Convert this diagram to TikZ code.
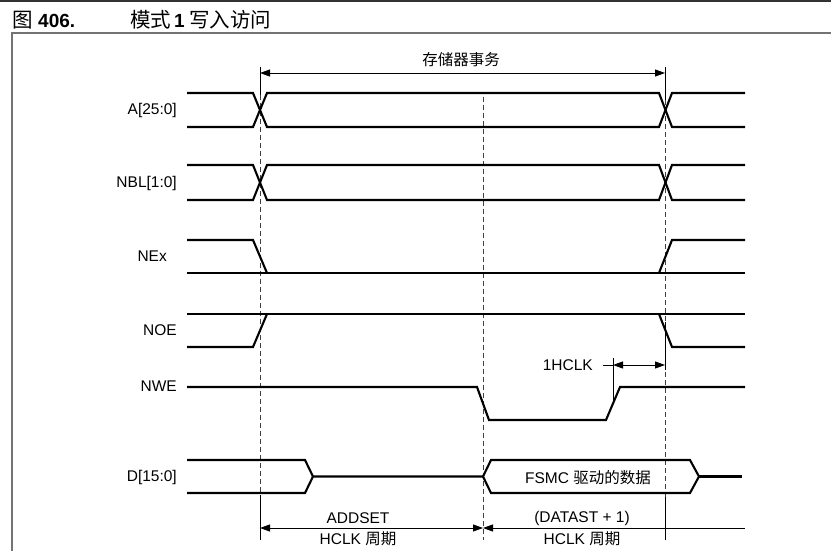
\documentclass[tikz,border=0pt]{standalone}
\usepackage{fontspec}
\setmainfont{Liberation Sans}
\newfontfamily\cjk{Noto Sans CJK SC}
\usetikzlibrary{arrows.meta}
\begin{document}
\begin{tikzpicture}[x=1pt,y=-1pt,
  sig/.style={line width=2.1pt, line join=miter},
  guide/.style={draw=black!75, line width=1pt, dash pattern=on 5pt off 3pt},
  ext/.style={line width=0.9pt},
  tipL/.style={{Triangle[length=10pt,width=7pt]}-},
  dim/.style={line width=0.9pt, {Triangle[length=10pt,width=7pt]}-{Triangle[length=10pt,width=7pt]}},
  lbl/.style={font=\fontsize{15.5}{18}\selectfont, inner sep=0pt},
  ttlcjk/.style={font=\fontsize{20.5}{22}\selectfont\cjk, inner sep=0pt, anchor=base west},
  ttllat/.style={font=\fontsize{19}{22}\selectfont\bfseries, inner sep=0pt, anchor=base west},
  frame/.style={draw=black!55, line width=1.5pt}]
\useasboundingbox (0,0) rectangle (831,551);
% frame
\draw[draw=black!80, line width=2pt] (0,1) -- (831,1);
\draw[frame] (831,33) -- (12,33) -- (12,551);
% title
\node[ttlcjk] (fig) at (12,28) {图};
\node[ttllat] (fignum) at (38,28) {406.};
\node[ttlcjk] (ttla) at (130,28) {模式};
\node[ttllat] (ttlb) at (174,28) {1};
\node[ttlcjk] (ttlc) at (189,28) {写入访问};
% key coordinates
\coordinate (topL) at (260,73);
\coordinate (topR) at (665,73);
\coordinate (botL) at (260,528);
\coordinate (botM) at (483,528);
\coordinate (botR) at (745,528);
\coordinate (hL) at (613,365);
\coordinate (hR) at (665,365);
\coordinate (hT) at (603,365);
% guide lines
\draw[ext] (260,67) -- (260,95);
\draw[ext] (665,67) -- (665,100);
\draw[guide] (260,95) -- (260,495);
\draw[ext] (260,495) -- (260,540);
\draw[guide] (483,97) -- (483,540);
\draw[guide] (665,100) -- (665,540);
\draw[ext] (665,322) -- (665,370);
\draw[ext] (665,497) -- (665,540);
% top arrow
\draw[dim] (topL) -- (topR);
\node[lbl] (trans) at (461,60) {\cjk 存储器事务};
% labels
\node[lbl, anchor=east] (la) at (177,110) {A[25:0]};
\node[lbl, anchor=east] (lnbl) at (177,183) {NBL[1:0]};
\node[lbl, anchor=east] (lnex) at (167,256) {NEx};
\node[lbl, anchor=east] (lnoe) at (177,330) {NOE};
\node[lbl, anchor=east] (lnwe) at (177,386) {NWE};
\node[lbl, anchor=east] (ld) at (177,477) {D[15:0]};
% A
\draw[sig] (187,93) -- (253,93) -- (267,127) -- (659,127) -- (672,93) -- (745,93);
\draw[sig] (187,127) -- (253,127) -- (267,93) -- (659,93) -- (672,127) -- (745,127);
% NBL
\draw[sig] (187,165) -- (253,165) -- (267,200) -- (659,200) -- (672,165) -- (745,165);
\draw[sig] (187,200) -- (253,200) -- (267,165) -- (659,165) -- (672,200) -- (745,200);
% NEx
\draw[sig] (187,273) -- (745,273);
\draw[sig] (187,240) -- (253,240) -- (267,273);
\draw[sig] (659,273) -- (672,240) -- (745,240);
% NOE
\draw[sig] (187,314) -- (745,314);
\draw[sig] (187,347) -- (253,347) -- (267,314);
\draw[sig] (659,314) -- (672,347) -- (745,347);
% NWE
\draw[sig] (187,387) -- (477,387) -- (489,420) -- (606,420) -- (620,387) -- (745,387);
% 1HCLK
\draw[ext] (613,358) -- (613,403);
\draw[ext] (hT) -- (hL);
\draw[dim] (hL) -- (hR);
\node[lbl, anchor=east] (hclk) at (593,365) {1HCLK};
% D
\draw[sig] (187,460) -- (305,460) -- (313,476.5) -- (483,476.5);
\draw[sig] (187,493) -- (305,493) -- (313,476.5);
\draw[sig] (483,476.5) -- (491,460) -- (690,460) -- (699,476.5) -- (690,493) -- (491,493) -- cycle;
\draw[sig] (699,476.5) -- (742,476.5);
\node[lbl] (fsmc) at (588,478) {FSMC {\cjk 驱动的数据}};
% bottom dimensions
\draw[dim] (botL) -- (botM);
\draw[ext, tipL] (botM) -- (botR);
\node[lbl] (addset) at (358,518) {ADDSET};
\node[lbl] (hc1) at (358,539) {HCLK {\cjk 周期}};
\node[lbl] (datast) at (582,518) {(DATAST + 1)};
\node[lbl] (hc2) at (582,539) {HCLK {\cjk 周期}};
\end{tikzpicture}
\end{document}
